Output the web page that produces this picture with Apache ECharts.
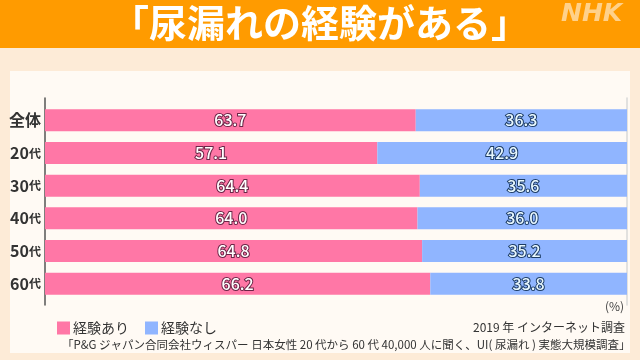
<!DOCTYPE html>
<html><head><meta charset="utf-8">
<script src="https://cdn.jsdelivr.net/npm/echarts@6/dist/echarts.min.js"></script>
<style>html,body{margin:0;padding:0;background:#FDEBD7;}#c{width:640px;height:360px;}</style>
</head><body><div id="c"></div>
<script>
const categories = ['全体', '20代', '30代', '40代', '50代', '60代'];
const withExperience = [63.7, 57.1, 64.4, 64.0, 64.8, 66.2];
const withoutExperience = [36.3, 42.9, 35.6, 36.0, 35.2, 33.8];
const seriesNames = ['経験あり', '経験なし'];
const titleText = '「尿漏れの経験がある」';
const unitText = '(%)';
const noteText = '2019 年 インターネット調査';
const sourceText = '「P&G ジャパン合同会社ウィスパー 日本女性 20 代から 60 代 40,000 人に聞く、UI( 尿漏れ ) 実態大規模調査」';

const FONT = '"Noto Sans CJK JP", "Noto Sans", sans-serif';
const chart = echarts.init(document.getElementById('c'), null, {renderer: 'canvas'});
const catFmt = v => {
  const m = v.match(/^(\d+)(代)$/);
  return m ? '{n|' + m[1] + '}{s|' + m[2] + '}' : '{n|' + v + '}';
};
chart.setOption({
  backgroundColor: '#FDEBD7',
  animation: false,
  graphic: [
    {type: 'rect', shape: {x: 0, y: 0, width: 640, height: 48}, style: {fill: '#FF9B00'}, z: -10},
    {type: 'rect', shape: {x: 10, y: 71, width: 620, height: 282}, style: {fill: '#FFFAF4'}, z: -10},
    {type: 'text', left: 'center', top: 4, style: {text: titleText, font: 'bold 38px ' + FONT, fill: '#FFFFFF'}},
    {type: 'text', left: 561, top: 2, style: {text: 'NHK', font: 'italic bold 25px "DejaVu Sans", sans-serif', fill: '#FFD18A'}},
    {type: 'text', left: 605, top: 300, style: {text: unitText, font: '12px ' + FONT, fill: '#444'}},
    {type: 'text', right: 15, top: 321, style: {text: noteText, font: '12px ' + FONT, fill: '#333'}},
    {type: 'text', left: 62, top: 339, style: {text: sourceText, font: '11.5px ' + FONT, fill: '#333'}}
  ],
  legend: {
    left: 52, top: 316, itemWidth: 13, itemHeight: 13, itemGap: 16,
    icon: 'rect',
    textStyle: {fontFamily: FONT, fontSize: 14, color: '#333', padding: [0, 0, 0, -2]},
    data: seriesNames
  },
  grid: [
    {left: 45, right: 13, top: 104, height: 196},
    {left: 45, right: 13, top: 98, height: 207}
  ],
  xAxis: [
    {type: 'value', min: 0, max: 100, show: false, gridIndex: 0},
    {type: 'value', min: 0, max: 100, show: false, gridIndex: 1}
  ],
  yAxis: [
    {type: 'category', data: categories, inverse: true, gridIndex: 0,
     axisLine: {show: false}, axisTick: {show: false},
     axisLabel: {margin: 4, formatter: catFmt,
       rich: {n: {fontFamily: FONT, fontSize: 16, fontWeight: 'bold', color: '#333'},
              s: {fontFamily: FONT, fontSize: 12, fontWeight: 'bold', color: '#333'}}}},
    {type: 'value', gridIndex: 1, position: 'left', axisLine: {show: true, lineStyle: {color: '#555', width: 1.5}},
     axisTick: {show: false}, axisLabel: {show: false}, splitLine: {show: false}},
    {type: 'value', gridIndex: 1, position: 'right', axisLine: {show: true, lineStyle: {color: '#D8D8D8', width: 1.5}},
     axisTick: {show: false}, axisLabel: {show: false}, splitLine: {show: false}}
  ],
  series: [
    {name: seriesNames[0], type: 'bar', stack: 'a', data: withExperience, barWidth: 22,
     itemStyle: {color: '#FF77A6'},
     label: {show: true, position: 'inside', formatter: p => p.value.toFixed(1),
       fontFamily: FONT, fontSize: 16, fontWeight: 500, color: '#FFFFFF',
       textBorderColor: '#6A2546', textBorderWidth: 2}},
    {name: seriesNames[1], type: 'bar', stack: 'a', data: withoutExperience, barWidth: 22,
     itemStyle: {color: '#90B5FF'},
     label: {show: true, position: 'inside', formatter: p => p.value.toFixed(1),
       fontFamily: FONT, fontSize: 16, fontWeight: 500, color: '#E8F8FF',
       textBorderColor: '#1C3B63', textBorderWidth: 2}}
  ]
});
</script></body></html>
